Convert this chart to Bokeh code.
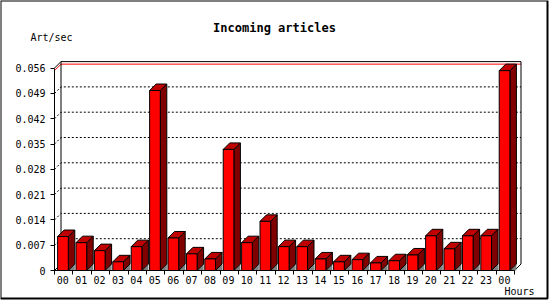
from bokeh.plotting import figure
from bokeh.models import Range1d, FixedTicker, Label, BoxAnnotation
from bokeh.embed import file_html
from bokeh.resources import INLINE

# ---- data -------------------------------------------------------------
hours = ["00", "01", "02", "03", "04", "05", "06", "07", "08", "09", "10", "11",
         "12", "13", "14", "15", "16", "17", "18", "19", "20", "21", "22", "23", "00"]
rates = [0.0094, 0.0077, 0.0055, 0.0024, 0.0066, 0.0498, 0.0090, 0.0046, 0.0032,
         0.0335, 0.0077, 0.0136, 0.0066, 0.0066, 0.0032, 0.0024, 0.0030, 0.0021,
         0.0027, 0.0043, 0.0096, 0.0060, 0.0096, 0.0096, 0.0553]
y_ticks = [0, 0.007, 0.014, 0.021, 0.028, 0.035, 0.042, 0.049, 0.056]
y_tick_labels = ["0", "0.007", "0.014", "0.021", "0.028", "0.035", "0.042", "0.049", "0.056"]
title_text = "Incoming articles"
y_title = "Art/sec"
x_title = "Hours"

# ---- layout constants ---------------------------------------------------
W, H = 550, 300
X0, Y0 = 54, 270                # canvas pixel of the axes origin
PX_PER_CAT = 18.4
PX_PER_UNIT = 25.3 / 0.007
DX = 6.5 / PX_PER_CAT          # 3-D depth, in data units
DY = 6.5 / PX_PER_UNIT
FONT = "DejaVu Sans Mono"

n = len(rates)
ymax = y_ticks[-1]

p = figure(width=W, height=H, output_backend="svg", toolbar_location=None,
           x_range=Range1d(-X0 / PX_PER_CAT, (W - X0) / PX_PER_CAT),
           y_range=Range1d(-(H - Y0) / PX_PER_UNIT, Y0 / PX_PER_UNIT),
           min_border=0, min_border_left=0, min_border_right=0,
           min_border_top=0, min_border_bottom=0)
p.grid.visible = False
p.outline_line_color = None
p.background_fill_color = "white"
p.border_fill_color = "white"

# ---- back wall: dotted grid, max line, outline --------------------------
grid_t = y_ticks[1:-1]
p.multi_line(xs=[[0, DX, n + DX] for t in grid_t],
             ys=[[t, t + DY, t + DY] for t in grid_t],
             line_color="black", line_width=1, line_dash="2 2")
m = max(rates)
p.line(x=[0, DX, n + DX], y=[m, m + DY, m + DY], line_color="#ff0000", line_width=1)
p.line(x=[0, DX, n + DX, n + DX, n], y=[ymax, ymax + DY, ymax + DY, DY, 0],
       line_color="black", line_width=1)
p.line(x=[DX, DX], y=[DY, ymax + DY], line_color="black", line_width=1)
p.line(x=[0, DX], y=[0, DY], line_color="black", line_width=1)

# ---- bars ---------------------------------------------------------------
lefts = [k + 0.17 for k in range(n)]
rights = [k + 0.75 for k in range(n)]

p.patches(xs=[[r, r + DX, r + DX] for r in rights],
          ys=[[0, DY, 0] for r in rights],
          fill_color="#808080", line_color=None)
p.patches(xs=[[r, r + DX, r + DX, r] for r in rights],
          ys=[[0, DY, v + DY, v] for v in rates],
          fill_color="#800000", line_color="black", line_width=1)
p.patches(xs=[[l, r, r + DX, l + DX] for l, r in zip(lefts, rights)],
          ys=[[v, v, v + DY, v + DY] for v in rates],
          fill_color="#c00000", line_color="black", line_width=1)
p.quad(left=lefts, right=rights, bottom=0, top=rates,
       fill_color="#ff0000", line_color="black", line_width=1)

# ---- axes (fixed at the data origin) ------------------------------------
xa = p.xaxis[0]
label_pos = [k + 0.45 for k in range(n)]
xa.fixed_location = 0
xa.ticker = FixedTicker(ticks=label_pos, minor_ticks=list(range(n + 1)))
xa.major_label_overrides = {pos: h for pos, h in zip(label_pos, hours)}
xa.bounds = (0, n)
xa.major_tick_line_color = None
xa.major_tick_out = 0
xa.major_tick_in = 0
xa.minor_tick_line_color = "black"
xa.minor_tick_out = 4
xa.minor_tick_in = 0
xa.major_label_standoff = 1

ya = p.yaxis[0]
ya.fixed_location = 0
ya.ticker = FixedTicker(ticks=y_ticks)
ya.major_label_overrides = {t: s for t, s in zip(y_ticks, y_tick_labels)}
ya.bounds = (0, ymax)
ya.major_tick_line_color = "black"
ya.major_tick_out = 4
ya.major_tick_in = 0
ya.minor_tick_line_color = None
ya.major_label_standoff = 5

for ax in (xa, ya):
    ax.axis_line_color = "black"
    ax.major_label_text_font = FONT
    ax.major_label_text_font_size = "10px"
    ax.major_label_text_color = "black"

# ---- texts --------------------------------------------------------------
def lab(text, cx, cy, align, size, style="normal"):
    p.add_layout(Label(x=cx, y=H - cy, x_units="screen", y_units="screen",
                       text=text, text_align=align, text_baseline="middle",
                       text_font=FONT, text_font_size=size, text_font_style=style,
                       text_color="black"))

lab(title_text, 274, 27, "center", "12px", "bold")
lab(y_title, 30, 37, "left", "10px")
lab(x_title, 504, 291, "left", "10px")

# ---- outer frame --------------------------------------------------------
p.add_layout(BoxAnnotation(left=0, right=547, top=H, bottom=H - 298,
                           left_units="screen", right_units="screen",
                           top_units="screen", bottom_units="screen",
                           fill_color=None, fill_alpha=0,
                           line_color="black", line_alpha=1.0, line_width=2))

open("out.html", "w").write(file_html(p, INLINE))
